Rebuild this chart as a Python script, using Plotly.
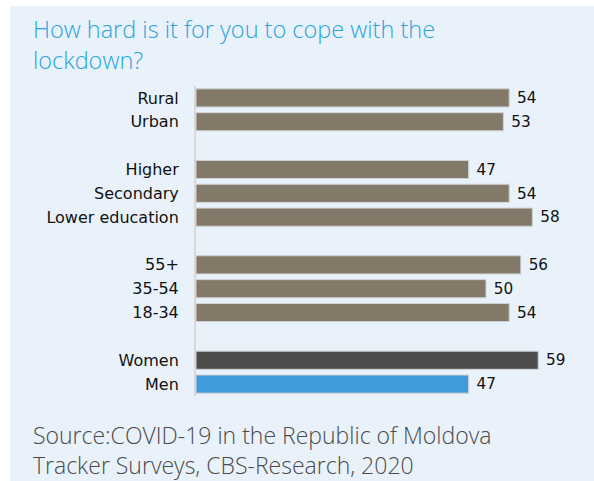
import plotly.graph_objects as go

# Survey breakdown, top to bottom
group_labels = [
    ["Rural", "Urban"],
    ["Higher", "Secondary", "Lower education"],
    ["55+", "35-54", "18-34"],
    ["Women", "Men"],
]
group_values = [
    [54, 53],
    [47, 54, 58],
    [56, 50, 54],
    [59, 47],
]
group_colors = [
    ["#837968", "#837968"],
    ["#837968", "#837968", "#837968"],
    ["#837968", "#837968", "#837968"],
    ["#4d4d4d", "#3f9bd9"],
]

TITLE = "How hard is it for you to cope with the<br>lockdown?"
SOURCE = "Source:COVID-19 in the Republic of Moldova<br>Tracker Surveys, CBS-Research, 2020"

# Flatten groups, leaving one empty row between groups
labels, values, colors, positions = [], [], [], []
pos = 0
for gl, gv, gc in zip(group_labels, group_values, group_colors):
    for lab, val, col in zip(gl, gv, gc):
        labels.append(lab)
        values.append(val)
        colors.append(col)
        positions.append(pos)
        pos += 1
    pos += 1
n_rows = positions[-1] + 1

W, H = 594, 481
L, R, T, B = 196, 0, 86, 85
plot_w = W - L - R
plot_h = H - T - B
x_max = plot_w / 5.8


def px_x(x):
    """pixel column -> paper x"""
    return (x - L) / plot_w


def px_y(y):
    """pixel row -> paper y"""
    return (H - B - y) / plot_h


fig = go.Figure(
    go.Bar(
        x=values,
        y=positions,
        orientation="h",
        marker=dict(color=colors, line=dict(color="#cfd2d4", width=1)),
        width=0.76,
        texttemplate="\u00a0%{x}",
        textposition="outside",
        textfont=dict(family="DejaVu Sans", size=16, color="#111111"),
        cliponaxis=False,
        hoverinfo="skip",
    )
)

# light panel behind the whole chart
fig.add_shape(
    type="rect", xref="paper", yref="paper", layer="below",
    x0=px_x(10), x1=px_x(W), y0=px_y(H), y1=px_y(6),
    fillcolor="#e9f2fa", line=dict(width=0),
)

fig.add_annotation(
    text=TITLE, xref="paper", yref="paper",
    x=px_x(31), y=px_y(11),
    xanchor="left", yanchor="top", align="left", showarrow=False,
    font=dict(family="Open Sans", size=23.5, color="#2aa4de", weight=300),
)

fig.add_annotation(
    text=SOURCE, xref="paper", yref="paper",
    x=px_x(31), y=px_y(417),
    xanchor="left", yanchor="top", align="left", showarrow=False,
    font=dict(family="Open Sans", size=23, color="#4a4a4a", weight=300),
)

fig.update_layout(
    width=W, height=H,
    margin=dict(l=L, r=R, t=T, b=B),
    paper_bgcolor="white",
    plot_bgcolor="rgba(0,0,0,0)",
    showlegend=False,
    xaxis=dict(range=[0, x_max], visible=False, fixedrange=True),
    yaxis=dict(
        range=[n_rows - 0.5, -0.5],
        tickvals=positions, ticktext=labels,
        showgrid=False, zeroline=False,
        showline=True, linecolor="#d8d8d8", linewidth=2,
        ticks="", ticklabelstandoff=12,
        tickfont=dict(family="DejaVu Sans", size=16, color="#111111"),
        fixedrange=True,
    ),
)

fig.write_html("out.html")
